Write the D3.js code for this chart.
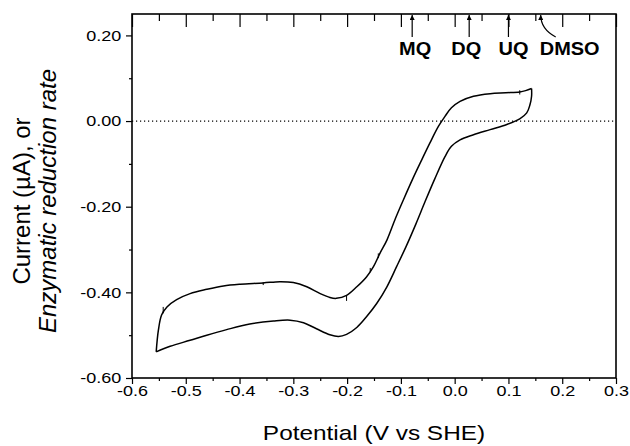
<!DOCTYPE html>
<html>
<head>
<meta charset="utf-8">
<script src="https://cdn.jsdelivr.net/npm/d3@7"></script>
<style>
  body { margin: 0; background: #fff; }
  text { font-family: "Liberation Sans", Arial, sans-serif; fill: #000; }
</style>
</head>
<body>
<div id="grafica"></div>
<script>
//------------------------------ Datos --------------

// Rama superior del voltamograma (de derecha a izquierda)
const potencialIda = [0.143, 0.132, 0.121, 0.095, 0.066, 0.035, 0.010, -0.006, -0.018, -0.030, -0.046, -0.061,
  -0.078, -0.095, -0.110, -0.126, -0.139, -0.151, -0.164, -0.182, -0.201, -0.220, -0.232, -0.250, -0.275,
  -0.300, -0.325, -0.356, -0.399, -0.430, -0.461, -0.492, -0.517, -0.535, -0.545, -0.551, -0.555]
const corrienteIda = [0.076, 0.071, 0.068, 0.066, 0.064, 0.058, 0.046, 0.031, 0.011, -0.012, -0.051, -0.090,
  -0.135, -0.183, -0.227, -0.278, -0.309, -0.340, -0.364, -0.387, -0.407, -0.414, -0.412, -0.403, -0.387,
  -0.377, -0.375, -0.378, -0.381, -0.385, -0.393, -0.403, -0.417, -0.434, -0.453, -0.489, -0.539]

// Rama inferior (de izquierda a derecha)
const potencialVuelta = [-0.555, -0.529, -0.492, -0.461, -0.424, -0.381, -0.337, -0.306, -0.281, -0.257, -0.232,
  -0.216, -0.201, -0.182, -0.164, -0.145, -0.126, -0.108, -0.090, -0.072, -0.055, -0.037, -0.018, -0.006,
  0.010, 0.035, 0.066, 0.097, 0.121, 0.134, 0.140, 0.143, 0.143]
const corrienteVuelta = [-0.539, -0.526, -0.512, -0.500, -0.487, -0.474, -0.467, -0.465, -0.471, -0.485, -0.499,
  -0.503, -0.498, -0.482, -0.457, -0.426, -0.387, -0.340, -0.292, -0.240, -0.188, -0.135, -0.083, -0.059,
  -0.044, -0.032, -0.020, -0.008, 0.005, 0.019, 0.038, 0.058, 0.076]

// Pequeños picos de ruido: [potencial, corriente inicio, corriente fin]
const picos = [[-0.542, -0.434, -0.449], [-0.356, -0.376, -0.383], [-0.201, -0.407, -0.420],
  [-0.142, -0.309, -0.320], [-0.157, -0.343, -0.353], [0.121, 0.072, 0.062]]

// Marcas de potencial de los aceptores
const aceptores = ["MQ", "DQ", "UQ", "DMSO"]
const potencialAceptor = [-0.079, 0.027, 0.100, 0.160]

// Ticks
const ticksX = [-0.6, -0.5, -0.4, -0.3, -0.2, -0.1, 0.0, 0.1, 0.2, 0.3]
const etiquetasX = ["-0.6", "-0.5", "-0.4", "-0.3", "-0.2", "-0.1", "0.0", "0.1", "0.2", "0.3"]
const ticksMenoresX = [-0.55, -0.45, -0.35, -0.25, -0.15, -0.05, 0.05, 0.15, 0.25]
const ticksY = [-0.6, -0.4, -0.2, 0.0, 0.2]
const etiquetasY = ["-0.60", "-0.40", "-0.20", "0.00", "0.20"]
const ticksMenoresY = [-0.5, -0.3, -0.1, 0.1]

//------------------------------------------------------------------------

const ancho = 630
const alto = 446
const margen = {top: 14, right: 14, bottom: 68, left: 132}
const estirar = "scale(1.2,1)"

const svg = d3.select("#grafica")
              .append("svg")
              .attr("width", ancho)
              .attr("height", alto)

const xScale = d3.scaleLinear()
                 .domain([-0.6, 0.3])
                 .range([margen.left, ancho - margen.right])

const yScale = d3.scaleLinear()
                 .domain([-0.6, 0.25])
                 .range([alto - margen.bottom, margen.top])

// ejes
function limpiar(g){
    g.select(".domain").remove()
    g.selectAll(".tick line").attr("stroke", "#000").attr("stroke-width", 1.2)
}

svg.append("g")
   .attr("transform", `translate(0, ${alto - margen.bottom})`)
   .call(d3.axisBottom(xScale).tickValues(ticksX).tickFormat((d, i) => etiquetasX[i]).tickSize(6).tickPadding(1))
   .call(limpiar)
   .selectAll("text")
   .attr("font-size", 15)
   .attr("transform", estirar)

svg.append("g")
   .attr("transform", `translate(0, ${alto - margen.bottom})`)
   .call(d3.axisBottom(xScale).tickValues(ticksMenoresX).tickFormat("").tickSize(3))
   .call(limpiar)

svg.append("g")
   .attr("transform", `translate(0, ${margen.top})`)
   .call(d3.axisTop(xScale).tickValues(ticksX).tickFormat("").tickSize(-13))
   .call(limpiar)

svg.append("g")
   .attr("transform", `translate(0, ${margen.top})`)
   .call(d3.axisTop(xScale).tickValues(ticksMenoresX).tickFormat("").tickSize(-7))
   .call(limpiar)

svg.append("g")
   .attr("transform", `translate(${margen.left}, 0)`)
   .call(d3.axisLeft(yScale).tickValues(ticksY).tickFormat((d, i) => etiquetasY[i]).tickSize(6).tickPadding(3))
   .call(limpiar)
   .selectAll("text")
   .attr("font-size", 15)
   .attr("transform", estirar)

svg.append("g")
   .attr("transform", `translate(${margen.left}, 0)`)
   .call(d3.axisLeft(yScale).tickValues(ticksMenoresY).tickFormat("").tickSize(3))
   .call(limpiar)

// marco
svg.append("rect")
   .attr("x", margen.left)
   .attr("y", margen.top)
   .attr("width", ancho - margen.left - margen.right)
   .attr("height", alto - margen.top - margen.bottom)
   .attr("fill", "none")
   .attr("stroke", "#000")
   .attr("stroke-width", 1.6)

// linea de cero punteada
svg.append("line")
   .attr("x1", xScale(-0.6))
   .attr("x2", xScale(0.3))
   .attr("y1", yScale(0))
   .attr("y2", yScale(0))
   .attr("stroke", "#000")
   .attr("stroke-width", 1.2)
   .attr("stroke-dasharray", "1.2,2.8")

// voltamograma cerrado
const ida = potencialIda.map((p, i) => [p, corrienteIda[i]])
const vuelta = potencialVuelta.map((p, i) => [p, corrienteVuelta[i]])
const linea = d3.line()
                .x(d => xScale(d[0]))
                .y(d => yScale(d[1]))
                .curve(d3.curveCatmullRom.alpha(0.5))

svg.append("path")
   .attr("d", linea(ida))
   .attr("fill", "none")
   .attr("stroke", "#000")
   .attr("stroke-width", 1.5)

svg.append("path")
   .attr("d", linea(vuelta))
   .attr("fill", "none")
   .attr("stroke", "#000")
   .attr("stroke-width", 1.5)

svg.selectAll(".pico")
   .data(picos)
   .enter()
   .append("line")
   .attr("class", "pico")
   .attr("x1", d => xScale(d[0]))
   .attr("x2", d => xScale(d[0]))
   .attr("y1", d => yScale(d[1]))
   .attr("y2", d => yScale(d[2]))
   .attr("stroke", "#000")
   .attr("stroke-width", 1)

// flechas de los aceptores
svg.append("defs")
   .append("marker")
   .attr("id", "punta")
   .attr("viewBox", "0 0 10 10")
   .attr("refX", 10)
   .attr("refY", 5)
   .attr("markerUnits", "userSpaceOnUse")
   .attr("markerWidth", 7)
   .attr("markerHeight", 5)
   .attr("orient", "auto")
   .append("path")
   .attr("d", "M0,0 L10,5 L0,10 Z")
   .attr("fill", "#000")

const yBaseFlecha = 37
const yPuntaFlecha = margen.top + 1
const desplazamientoEtiqueta = [3, -3, 5, 29]

aceptores.forEach((nombre, i) => {
    const px = xScale(potencialAceptor[i])
    let d
    if (nombre === "DMSO") {
        d = `M${px + 15},${yBaseFlecha} Q${px},${yBaseFlecha - 8} ${px},${yPuntaFlecha}`
    } else {
        d = `M${px},${yBaseFlecha} L${px},${yPuntaFlecha}`
    }
    svg.append("path")
       .attr("d", d)
       .attr("fill", "none")
       .attr("stroke", "#000")
       .attr("stroke-width", 1.2)
       .attr("marker-end", "url(#punta)")

    const cx = px + desplazamientoEtiqueta[i]
    svg.append("text")
       .attr("transform", `translate(${cx}, 55) scale(1.05,1)`)
       .attr("text-anchor", "middle")
       .attr("font-size", 19)
       .attr("font-weight", "bold")
       .text(nombre)
})

// titulos de los ejes
svg.append("text")
   .attr("transform", `translate(${(margen.left + ancho - margen.right) / 2}, 440) scale(1.22,1)`)
   .attr("text-anchor", "middle")
   .attr("font-size", 20)
   .text("Potential (V vs SHE)")

const tituloY = svg.append("g")
                   .attr("transform", "translate(0, 201) rotate(-90)")
tituloY.append("text")
       .attr("x", 0)
       .attr("y", 30)
       .attr("text-anchor", "middle")
       .attr("font-size", 24)
       .text("Current (\u00b5A), or")
tituloY.append("text")
       .attr("x", 0)
       .attr("y", 56)
       .attr("text-anchor", "middle")
       .attr("font-size", 24)
       .attr("font-style", "italic")
       .text("Enzymatic reduction rate")
</script>
</body>
</html>
